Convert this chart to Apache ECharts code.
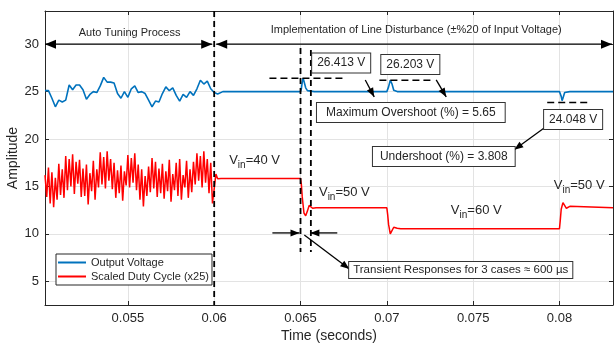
<!DOCTYPE html>
<html><head><meta charset="utf-8">
<script src="https://cdn.jsdelivr.net/npm/echarts@6/dist/echarts.min.js"></script>
<style>html,body{margin:0;padding:0;background:#fff}#c{width:614px;height:345px}</style>
</head><body><div id="c"></div>
<script>
// ---- axis ranges ----
const xMin = 0.0502, xMax = 0.0831, yMin = 2.5, yMax = 33.5;
const seriesNames = ['Output Voltage', 'Scaled Duty Cycle (x25)'];

// ---- Output voltage: auto-tuning part (sampled every 0.2 ms from 0.0502 s) ----
const tuneStart = 0.0502;
const blueStep = 0.0002;
const blueTune = [25.1,25.1,24.3,23.4,24.1,23.9,24.1,25.7,25.2,25.7,
  25.7,25.2,24.2,24.7,25.0,24.9,25.6,26.5,26.0,26.0,
  25.9,24.8,24.3,25.0,24.4,25.3,25.6,24.9,25.0,24.8,
  24.1,23.4,24.0,23.9,24.8,25.5,25.1,25.4,24.6,24.0,
  24.7,24.4,25.0,24.6,25.3,26.2,25.8,26.1,25.3,24.9];
// ---- Output voltage: line-disturbance part [time, value] ----
const blueLine = [[0.0601,24.9],[0.0602,24.75],[0.0603,24.85],[0.0605,25.0],[0.0650,25.0],
  [0.06505,25.3],[0.0651,26.0],[0.06515,26.413],[0.0652,26.1],[0.0653,25.4],[0.0654,25.1],
  [0.0655,25.2],[0.0656,25.05],[0.0658,25.0],[0.0700,25.0],[0.0701,25.5],[0.0702,26.203],
  [0.0703,25.8],[0.0704,25.15],[0.0705,25.1],[0.0706,25.0],[0.0800,25.0],[0.0801,24.5],
  [0.08015,24.048],[0.0802,24.3],[0.0803,24.9],[0.0804,24.95],[0.0806,25.0],[0.0831,25.0]];

// ---- Scaled duty cycle: auto-tuning part (sampled every 0.1 ms from 0.0502 s) ----
const redStep = 0.0001;
const redTune = [16.2,13.9,17.0,13.2,16.5,12.8,15.9,13.6,17.4,14.1,
  16.8,13.8,18.2,14.6,17.9,15.0,18.4,14.2,17.6,15.3,
  17.8,13.9,16.9,14.0,17.3,13.1,16.4,14.5,17.7,13.6,
  16.8,14.9,18.6,15.2,18.1,14.8,18.7,15.6,17.9,14.7,
  17.5,13.8,16.7,14.3,17.2,13.5,16.6,15.1,18.3,14.9,
  18.0,15.4,18.5,14.6,17.3,13.6,16.8,12.9,16.1,14.0,
  17.1,14.4,18.0,14.8,17.6,13.9,16.9,14.3,17.4,13.7,
  16.6,14.5,17.8,13.4,16.3,14.6,17.5,14.0,17.9,13.6,
  16.2,14.9,17.7,13.8,16.8,14.4,17.6,15.2,18.5,15.6,
  18.2,14.9,18.7,15.4,17.9,14.3,17.5,13.2,13.4];
// ---- Scaled duty cycle: line-disturbance part [time, value] ----
const redLine = [[0.0601,16.3],[0.0602,15.8],[0.0604,15.85],[0.0650,15.85],[0.06505,15.2],
  [0.0651,13.9],[0.0652,12.2],[0.0653,11.9],[0.0654,12.4],[0.0655,13.0],[0.0656,12.9],
  [0.0657,12.7],[0.0659,12.75],[0.0700,12.75],[0.07005,12.0],[0.0701,11.0],[0.0702,10.0],
  [0.0703,10.2],[0.0704,10.7],[0.0705,10.8],[0.0706,10.6],[0.0708,10.55],[0.0800,10.55],
  [0.08005,11.5],[0.0801,12.6],[0.0802,13.3],[0.0803,13.2],[0.0804,12.7],[0.0805,12.8],
  [0.0806,12.9],[0.0807,12.75],[0.0831,12.75]];

// ---- annotation values ----
const peakValues = [26.413, 26.203, 24.048];
const switchTimes = [0.06, 0.065, 0.0656, 0.07, 0.08];
const vinLabels = [['=40 V', 0.06234, 17.78], ['=50 V', 0.06754, 14.42], ['=60 V', 0.07518, 12.52], ['=50 V', 0.08114, 15.16]];

const FONT = '"Liberation Sans", Arial, Helvetica, sans-serif';
const TXT = '#262626';

const blueData = blueTune.map((v, i) => [+(tuneStart + i * blueStep).toFixed(5), v]).concat(blueLine);
const redData = redTune.map((v, i) => [+(tuneStart + i * redStep).toFixed(5), v]).concat(redLine);

const chart = echarts.init(document.getElementById('c'), null, {renderer: 'canvas'});
const axisCommon = {
  axisLine: {show: true, lineStyle: {color: TXT, width: 1}},
  axisTick: {show: true, inside: true, length: 4, lineStyle: {color: TXT}},
};
chart.setOption({
  animation: false,
  backgroundColor: '#fff',
  grid: {left: 45, right: 1, top: 11, bottom: 40, containLabel: false, outerBoundsMode: 'none'},
  xAxis: [
    Object.assign({type: 'value', min: xMin, max: xMax, splitNumber: 6, position: 'bottom',
      name: 'Time (seconds)', nameLocation: 'middle', nameGap: 24, nameMoveOverlap: false,
      nameTextStyle: {fontSize: 14, color: TXT, fontFamily: FONT},
      axisLabel: {fontSize: 13, color: TXT, fontFamily: FONT, margin: 7, showMinLabel: false, showMaxLabel: false},
      splitLine: {show: true, lineStyle: {color: '#e3e3e3', width: 1}}}, axisCommon),
    Object.assign({type: 'value', min: xMin, max: xMax, splitNumber: 6, position: 'top',
      axisLabel: {show: false}, splitLine: {show: false}}, axisCommon)
  ],
  yAxis: [
    Object.assign({type: 'value', min: yMin, max: yMax, splitNumber: 6, position: 'left',
      name: 'Amplitude', nameLocation: 'middle', nameGap: 25, nameMoveOverlap: false,
      nameTextStyle: {fontSize: 14, color: TXT, fontFamily: FONT},
      axisLabel: {fontSize: 13, color: TXT, fontFamily: FONT, margin: 6, showMinLabel: false, showMaxLabel: false},
      splitLine: {show: true, lineStyle: {color: '#e3e3e3', width: 1}}}, axisCommon),
    Object.assign({type: 'value', min: yMin, max: yMax, splitNumber: 6, position: 'right',
      axisLabel: {show: false}, splitLine: {show: false}}, axisCommon)
  ],
  legend: {
    orient: 'vertical', left: 56, top: 254, data: seriesNames, selectedMode: false, z: 60,
    icon: 'rect', itemWidth: 28, itemHeight: 2, itemGap: 3,
    padding: [3, 3, 3, 2], borderColor: '#262626', borderWidth: 1, backgroundColor: '#fff',
    textStyle: {fontSize: 11, color: TXT, fontFamily: FONT}
  },
  series: [
    {name: seriesNames[0], type: 'line', data: blueData, showSymbol: false, symbol: 'none',
      lineStyle: {color: '#0072BD', width: 1.6}, itemStyle: {color: '#0072BD'}, z: 3},
    {name: seriesNames[1], type: 'line', data: redData, showSymbol: false, symbol: 'none',
      lineStyle: {color: '#FF0000', width: 1.5}, itemStyle: {color: '#FF0000'}, z: 2}
  ]
});

// ---- annotations placed in data coordinates ----
const P = (t, v) => chart.convertToPixel({gridIndex: 0}, [t, v]);
const g = [];
function seg(a, b, opt) {
  g.push({type: 'line', z: 20, shape: {x1: a[0], y1: a[1], x2: b[0], y2: b[1]},
    style: Object.assign({stroke: '#000', lineWidth: 1.3}, opt || {})});
}
function head(tip, from, L, W) {
  const dx = tip[0] - from[0], dy = tip[1] - from[1], d = Math.hypot(dx, dy);
  const ux = dx / d, uy = dy / d, bx = tip[0] - ux * L, by = tip[1] - uy * L;
  g.push({type: 'polygon', z: 21, shape: {points: [tip, [bx - uy * W / 2, by + ux * W / 2], [bx + uy * W / 2, by - ux * W / 2]]},
    style: {fill: '#000'}});
}
function arrow(a, b, L, W, both) { seg(a, b); head(b, a, L, W); if (both) head(a, b, L, W); }
function txt(text, p, size, box) {
  const st = {text: text, fontSize: size, fontFamily: FONT, fill: TXT, align: 'center', verticalAlign: 'middle'};
  if (box) Object.assign(st, {backgroundColor: '#fff', borderColor: '#333', borderWidth: 1, padding: box});
  g.push({type: 'text', z: 30, x: p[0], y: p[1], style: st});
}

// vertical dashed lines
const dash = {lineDash: [6, 4], lineWidth: 1.8};
seg(P(switchTimes[0], yMax), P(switchTimes[0], yMin), dash);
seg(P(switchTimes[1], 29.6), P(switchTimes[1], 8.1), dash);
seg(P(switchTimes[2], 29.4), P(switchTimes[2], 8.1), dash);
// horizontal dashed peak lines
const hd = {lineDash: [7, 4], lineWidth: 1.5};
seg(P(0.0632, peakValues[0]), P(0.0676, peakValues[0]), hd);
seg(P(0.06957, peakValues[1]), P(0.07263, peakValues[1]), hd);
seg(P(0.07929, 23.85), P(0.08172, 23.85), hd);

// top phase arrows
const y30 = P(xMin, 30)[1];
const x0 = P(xMin, 30)[0], x6 = P(0.06, 30)[0], xE = P(xMax, 30)[0];
arrow([x0, y30], [x6 - 2, y30], 11, 9, true);
arrow([x6 + 2, y30], [xE - 1, y30], 11, 9, true);
txt('Auto Tuning Process', P(0.0551, 31.2), 11);
txt('Implementation of Line Disturbance (\u00b1%20 of Input Voltage)', P(0.0717, 31.5), 11);

// value boxes
txt('26.413 V', P(0.067355, 28.03), 12, [4, 5, 3, 5]);
txt('26.203 V', P(0.07136, 27.87), 12, [4, 5, 3, 5]);
txt('Maximum Overshoot (%) = 5.65', P(0.07139, 22.81), 12, [4, 9, 3, 9]);
txt('24.048 V', P(0.08079, 22.07), 12, [4, 5, 3, 5]);
txt('Undershoot (%) = 3.808', P(0.0733, 18.16), 12, [4, 7, 3, 7]);
txt('Transient Responses for 3 cases \u2248 600 \u00b5s', P(0.07428, 6.19), 11.5, [2, 4, 2, 4]);

// pointer arrows
arrow(P(0.06875, 26.23), P(0.06927, 24.44), 9, 7);
arrow(P(0.07286, 26.23), P(0.07344, 24.44), 9, 7);
arrow(P(0.07911, 21.17), P(0.07738, 18.86), 9, 7);
arrow(P(0.06337, 10.1), P(0.06494, 10.1), 9, 7);
arrow(P(0.06713, 10.1), P(0.06557, 10.1), 9, 7);
arrow(P(0.06522, 9.88), P(0.06783, 6.3), 9, 7);

// V_in labels
vinLabels.forEach(function (l) {
  const p = P(l[1], l[2]);
  g.push({type: 'text', z: 30, x: p[0], y: p[1], style: {
    text: '{v|V}{s|in}{v|' + l[0] + '}', align: 'center', verticalAlign: 'middle',
    rich: {
      v: {fontSize: 13, fontFamily: FONT, fill: TXT, color: TXT},
      s: {fontSize: 10, fontFamily: FONT, fill: TXT, color: TXT, padding: [11, 0, 0, 0]}
    }}});
});

chart.setOption({graphic: {elements: g}});
</script></body></html>
